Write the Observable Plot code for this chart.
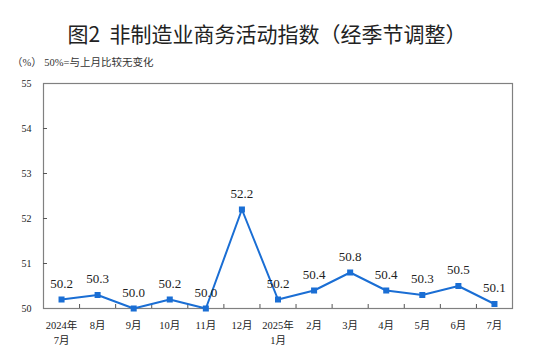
<!DOCTYPE html>
<html>
<head>
<meta charset="utf-8">
<script src="https://cdn.jsdelivr.net/npm/d3@7"></script>
<script src="https://cdn.jsdelivr.net/npm/@observablehq/plot@0.6"></script>
<style>
  html, body { margin: 0; padding: 0; background: #fff; }
  #wrap { width: 534px; }
  #title { height: 54px; line-height: 50px; padding-top: 8px; box-sizing: border-box; text-align: center; font-family: "Noto Sans CJK SC", sans-serif; font-size: 21px; color: #222; white-space: nowrap; }
  #subtitle { height: 18px; line-height: 18px; padding-left: 12px; font-family: "Liberation Serif", "Noto Sans CJK SC", serif; font-size: 10.5px; color: #333; white-space: nowrap; }
</style>
</head>
<body>
<div id="wrap">
  <div id="title">图2&nbsp;&nbsp;非制造业商务活动指数（经季节调整）</div>
  <div id="subtitle">（%） 50%=与上月比较无变化</div>
  <div id="chart"></div>
</div>
<script>
const months = ["2024年\n7月", "8月", "9月", "10月", "11月", "12月", "2025年\n1月", "2月", "3月", "4月", "5月", "6月", "7月"];
const values = [50.2, 50.3, 50.0, 50.2, 50.0, 52.2, 50.2, 50.4, 50.8, 50.4, 50.3, 50.5, 50.1];
const yTicks = [50, 51, 52, 53, 54, 55];

const data = months.map((m, i) => ({i, month: m, value: values[i]}));
const boundaries = d3.range(1, months.length).map(i => i - 0.5);
const blue = "#1a6ed4";
const serif = "'Liberation Serif', 'Noto Sans CJK SC', serif";

const chart = Plot.plot({
  width: 534,
  height: 284,
  marginTop: 11,
  marginBottom: 48,
  marginLeft: 43,
  marginRight: 22,
  style: {fontFamily: serif, fontSize: "10.5px", color: "#222", background: "#fff"},
  x: {type: "linear", domain: [-0.5, months.length - 0.5]},
  y: {domain: [50, 55]},
  marks: [
    Plot.frame({stroke: "#808080", strokeWidth: 1.2}),
    Plot.axisX(d3.range(months.length), {tickSize: 0, tickPadding: 9, tickFormat: i => months[i], lineHeight: 1.5, fontSize: 10.5, label: null}),
    Plot.axisY(yTicks, {tickSize: 0, tickPadding: 12, fontSize: 10, label: null}),
    Plot.ruleX(boundaries, {x: d => d, y1: 50, y2: 50 + 4 / 45, stroke: "#555"}),
    Plot.ruleY(yTicks.slice(1, -1), {y: d => d, x1: -0.5, x2: -0.5 + 4 / 36.08, stroke: "#555"}),
    Plot.line(data, {x: "i", y: "value", stroke: blue, strokeWidth: 2}),
    Plot.dot(data, {x: "i", y: "value", symbol: "square", r: 3.4, fill: blue, stroke: "none"}),
    Plot.text(data, {x: "i", y: "value", text: d => d.value.toFixed(1), dy: -16, fontSize: 13, fill: "#222", fontFamily: serif})
  ]
});
document.getElementById("chart").appendChild(chart);
</script>
</body>
</html>
